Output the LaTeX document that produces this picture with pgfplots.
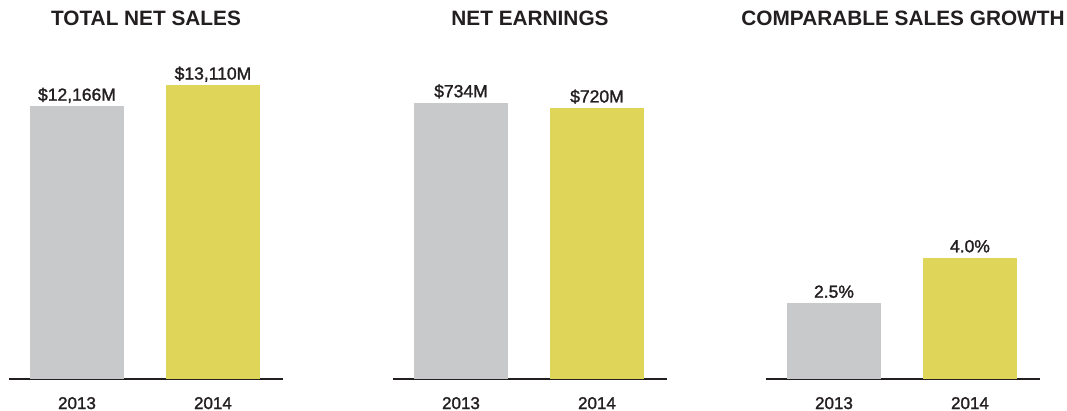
\documentclass[border=0pt]{standalone}
\usepackage{fontspec}
\setmainfont{Liberation Sans}
\newfontfamily\medfont[FakeBold=1.5]{Liberation Sans}
\usepackage{pgfplots}
\pgfplotsset{compat=1.18}
\definecolor{bargray}{RGB}{200,201,203}
\definecolor{baryel}{RGB}{223,213,89}
\definecolor{txt}{RGB}{35,31,32}
\pgfplotsset{
  panel/.style={
    scale only axis, width=274bp, height=300bp,
    anchor=south west,
    xmin=-0.5, xmax=1.515, ymin=0,
    axis x line=bottom, axis y line=none,
    axis line style={-, line width=2.6bp, color=txt},
    xtick={0,1}, xticklabels={2013,2014},
    major tick length=0pt,
    xticklabel style={anchor=base, inner sep=0pt, yshift=-30bp, font=\fontsize{17bp}{19bp}\medfont, text=txt},
    title style={at={(0.5,1)}, anchor=base, yshift=48bp, font=\fontsize{20.8bp}{24bp}\bfseries, text=txt},
    ybar, bar width=94bp, bar shift=0pt,
    clip=false,
    point meta=explicit symbolic,
    nodes near coords,
    every node near coord/.append style={anchor=base, yshift=5.5bp, font=\fontsize{17.5bp}{20bp}\medfont, text=txt},
  }
}
\begin{document}
\begin{tikzpicture}
\begin{axis}[panel, at={(9bp,32bp)}, ymax=13380, title={TOTAL NET SALES}]
\addplot[fill=bargray, draw=none] coordinates {(0,12166) [\$12,166M]};
\addplot[fill=baryel, draw=none] coordinates {(1,13110) [\$13,110M]};
\end{axis}
\begin{axis}[panel, at={(393bp,32bp)}, ymax=797, title={NET EARNINGS}]
\addplot[fill=bargray, draw=none] coordinates {(0,734) [\$734M]};
\addplot[fill=baryel, draw=none] coordinates {(1,720) [\$720M]};
\end{axis}
\begin{axis}[panel, at={(766bp,32bp)}, ymax=9.9, title={COMPARABLE SALES GROWTH}]
\addplot[fill=bargray, draw=none] coordinates {(0,2.5) [2.5\%]};
\addplot[fill=baryel, draw=none] coordinates {(1,4.0) [4.0\%]};
\end{axis}
\pgfresetboundingbox
\path[use as bounding box] (0,0) rectangle (1067bp,411bp);
\end{tikzpicture}
\end{document}
